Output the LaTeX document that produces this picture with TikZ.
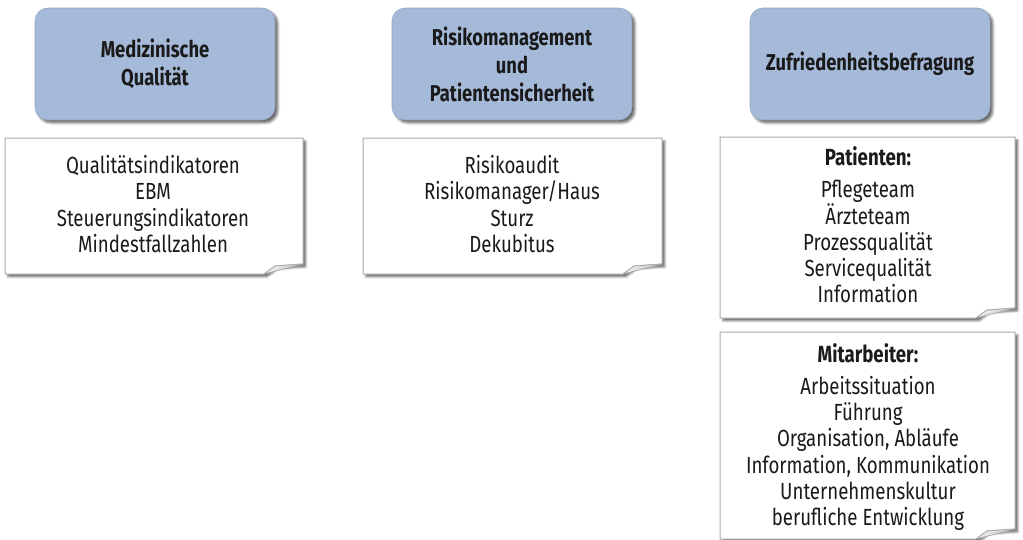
\documentclass[tikz,border=0pt]{standalone}
\usepackage{fontspec}
\setmainfont[FakeStretch=0.8]{Fira Sans}
\usetikzlibrary{calc,shadows.blur}
\definecolor{headblue}{HTML}{A5B9D9}
\definecolor{edgegray}{HTML}{A9A9A9}
\definecolor{txt}{HTML}{1A1A1A}
\newcommand\noteshape[2]{(#1) -- (#1 -| #2) -- ($(#2)+(0,-10)$) -- ($(#2)+(-28,-8)$) -- ($(#2)+(-39,0)$) -- (#1 |- #2) -- cycle}
\newcommand\notefold[1]{($(#1)+(0,-10)$) -- ($(#1)+(-28,-8)$) -- ($(#1)+(-39,0)$) -- cycle}
\begin{document}
\begin{tikzpicture}[x=0.75pt,y=-0.75pt,
  headbox/.style={rounded corners=9.75pt, fill=headblue, draw=headblue!88!black, line width=0.4pt,
    minimum width=180pt, minimum height=84pt, align=center, text=txt,
    font=\bfseries\fontsize{17.2}{21}\selectfont,
    blur shadow={shadow xshift=2.2pt, shadow yshift=-2.2pt, shadow blur radius=1.8pt, shadow opacity=60}},
  notebox/.style={fill=white, draw=edgegray, line width=0.75pt,
    blur shadow={shadow xshift=2.2pt, shadow yshift=-2.2pt, shadow blur radius=1.5pt, shadow opacity=55}},
  notefoldstyle/.style={left color=gray!12, right color=gray!45, draw=edgegray, line width=0.5pt},
  notetext/.style={align=center, text=txt, font=\fontsize{17.5}{19.7}\selectfont}]
\useasboundingbox (0,0) rectangle (1023,539);

% heading boxes
\node[headbox] (h1) at (155,64) {Medizinische\\Qualität};
\node[headbox] (h2) at (512,64) {Risikomanagement\\und\\Patientensicherheit};
\node[headbox] (h3) at (870,64) {Zufriedenheitsbefragung};

% note boxes
\coordinate (nw1) at (5,138);   \coordinate (se1) at (303,274);
\coordinate (nw2) at (363,138); \coordinate (se2) at (662,274);
\coordinate (nw3) at (720,137); \coordinate (se3) at (1015,318);
\coordinate (nw4) at (720,332); \coordinate (se4) at (1015,539);

\path[notebox] \noteshape{nw1}{se1};
\path[notefoldstyle] \notefold{se1};
\path[notebox] \noteshape{nw2}{se2};
\path[notefoldstyle] \notefold{se2};
\path[notebox] \noteshape{nw3}{se3};
\path[notefoldstyle] \notefold{se3};
\path[notebox] \noteshape{nw4}{se4};
\path[notefoldstyle] \notefold{se4};

\node[notetext] (t1) at (153,204) {Qualitätsindikatoren\\EBM\\Steuerungsindikatoren\\Mindestfallzahlen};
\node[notetext] (t2) at (512,204) {Risikoaudit\\Risikomanager/Haus\\Sturz\\Dekubitus};
\node[notetext] (t3) at (868,225) {\textbf{Patienten:}\\[4.5pt]Pflegeteam\\Ärzteteam\\Prozessqualität\\Servicequalität\\Information};
\node[notetext] (t4) at (868,437) {\textbf{Mitarbeiter:}\\[4.5pt]Arbeitssituation\\Führung\\Organisation, Abläufe\\Information, Kommunikation\\Unternehmenskultur\\berufliche Entwicklung};
\end{tikzpicture}
\end{document}
